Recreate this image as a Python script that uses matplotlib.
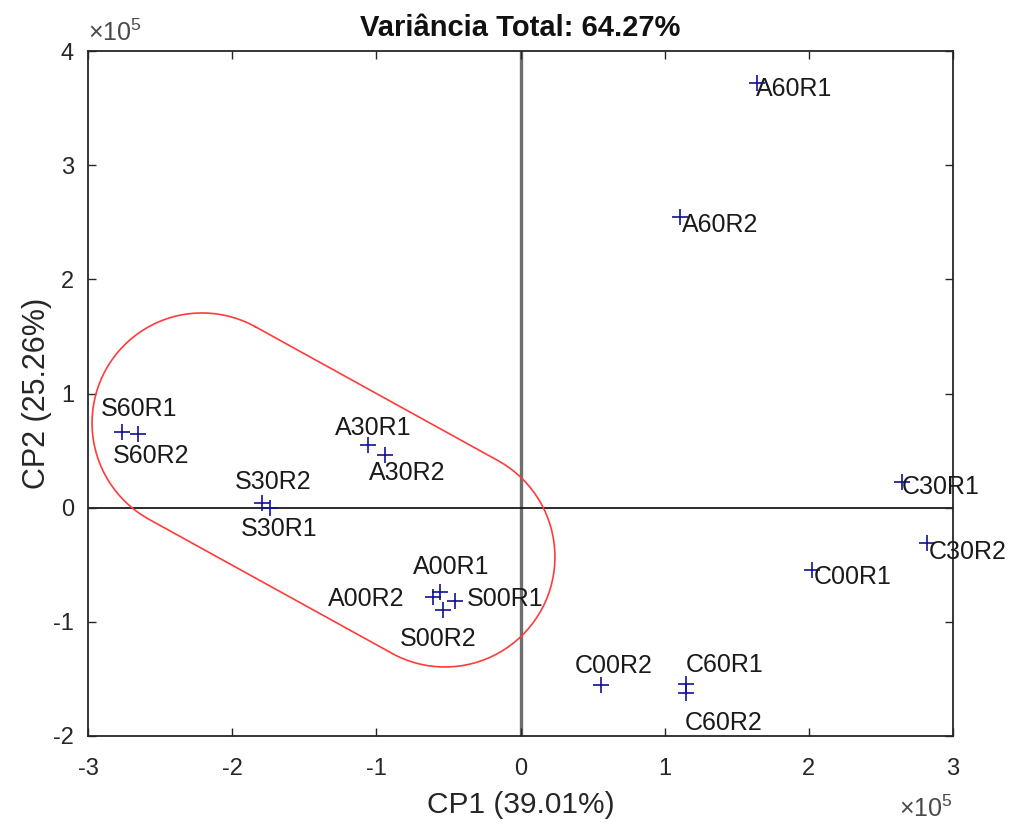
import numpy as np
import matplotlib
matplotlib.use("Agg")
import matplotlib.pyplot as plt

plt.rcParams['font.family'] = ['Liberation Sans', 'DejaVu Sans']
plt.rcParams['mathtext.fontset'] = 'custom'
plt.rcParams['mathtext.rm'] = 'Liberation Sans'
plt.rcParams['mathtext.it'] = 'Liberation Sans:italic'
plt.rcParams['mathtext.bf'] = 'Liberation Sans:bold'
plt.rcParams['axes.unicode_minus'] = False

# ---- data (scores in units of 1e5) ----
names = ["A60R1", "A60R2", "C30R1", "C30R2", "C00R1", "C00R2", "C60R1", "C60R2",
         "S60R1", "S60R2", "S30R2", "S30R1", "A30R1", "A30R2",
         "A00R1", "A00R2", "S00R1", "S00R2"]
cp1 = [1.638, 1.106, 2.644, 2.817, 2.020, 0.556, 1.148, 1.148,
       -2.766, -2.651, -1.795, -1.738, -1.058, -0.940,
       -0.558, -0.607, -0.454, -0.538]
cp2 = [3.717, 2.546, 0.228, -0.312, -0.546, -1.553, -1.544, -1.623,
       0.666, 0.646, 0.039, -0.005, 0.549, 0.462,
       -0.736, -0.780, -0.817, -0.896]
xticks = [-3, -2, -1, 0, 1, 2, 3]
yticks = [-2, -1, 0, 1, 2, 3, 4]
title = "Variância Total: 64.27%"
xlabel = "CP1 (39.01%)"
ylabel = "CP2 (25.26%)"

# label offsets (pixels, text centre relative to marker; y up, baseline anchor)
label_off = {
    "A60R1": (37, -13), "A60R2": (40, -15), "C30R1": (39, -12), "C30R2": (41, -16),
    "C00R1": (41, -14), "C00R2": (13, 12), "C60R1": (39, 12), "C60R2": (38, -37),
    "S60R1": (17, 16), "S60R2": (13, -29), "S30R2": (11, 14), "S30R1": (9, -28),
    "A30R1": (5, 10), "A30R2": (22, -25), "A00R1": (11, 18), "A00R2": (-67, -9),
    "S00R1": (50, -5), "S00R2": (-5, -36),
}

# capsule (group outline): end centres in data units, radius in pixels
cap_c1 = (-2.209, 0.742)
cap_c2 = (-0.524, -0.432)
cap_r_px = 110

W, H = 1009, 824
fig = plt.figure(figsize=(W / 100, H / 100), dpi=100)
ax = fig.add_axes([88 / W, 1 - 736 / H, (953 - 88) / W, (736 - 51) / H])

axc = '#262626'
ax.set_xlim(-3, 3)
ax.set_ylim(-2, 4)
ax.set_xticks(xticks)
ax.set_yticks(yticks)
ax.tick_params(direction='in', length=6, width=1.0, colors=axc, labelsize=17,
               top=True, right=True)
ax.tick_params(axis='x', pad=16)
ax.tick_params(axis='y', pad=10)
for s in ax.spines.values():
    s.set_color(axc)
    s.set_linewidth(1.3)

ax.axvline(0, color='#6e6e6e', lw=2.4, zorder=1)
ax.axhline(0, color='#1a1a1a', lw=1.3, zorder=1)

ax.plot(cp1, cp2, linestyle='none', marker='+', markersize=11, mew=1.2,
        color='#10109a', zorder=3)

for n, x, y in zip(names, cp1, cp2):
    dx, dy = label_off[n]
    ax.annotate(n, (x, y), xytext=(dx, dy), textcoords='offset pixels',
                ha='center', va='baseline', fontsize=18, color='#1a1a1a', zorder=4)

# capsule outline
fig.canvas.draw()
p1 = ax.transData.transform(cap_c1)
p2 = ax.transData.transform(cap_c2)
d = p2 - p1
ang = np.arctan2(d[1], d[0])
t1 = np.linspace(ang + np.pi / 2, ang + 3 * np.pi / 2, 100)
t2 = np.linspace(ang - np.pi / 2, ang + np.pi / 2, 100)
pts = np.vstack([
    np.column_stack([p1[0] + cap_r_px * np.cos(t1), p1[1] + cap_r_px * np.sin(t1)]),
    np.column_stack([p2[0] + cap_r_px * np.cos(t2), p2[1] + cap_r_px * np.sin(t2)]),
])
pts = np.vstack([pts, pts[:1]])
dpts = ax.transData.inverted().transform(pts)
ax.plot(dpts[:, 0], dpts[:, 1], color='#ff3b3b', lw=1.2, zorder=2)

ax.set_title(title, fontsize=21, fontweight='bold', color='#111111', pad=11)
ax.set_xlabel(xlabel, fontsize=21.5, color=axc, labelpad=8)
ax.set_ylabel(ylabel, fontsize=22, color=axc, labelpad=1)

ax.text(0.0, 1.008, r'$\mathregular{\times10^{5}}$', transform=ax.transAxes,
        ha='left', va='bottom', fontsize=18, color='#4a4a4a')
ax.text(1.0, -(817 - 736) / (736 - 51), r'$\mathregular{\times10^{5}}$',
        transform=ax.transAxes, ha='right', va='baseline', fontsize=18, color='#4a4a4a')

fig.savefig('out.png', dpi=100, facecolor='white')
